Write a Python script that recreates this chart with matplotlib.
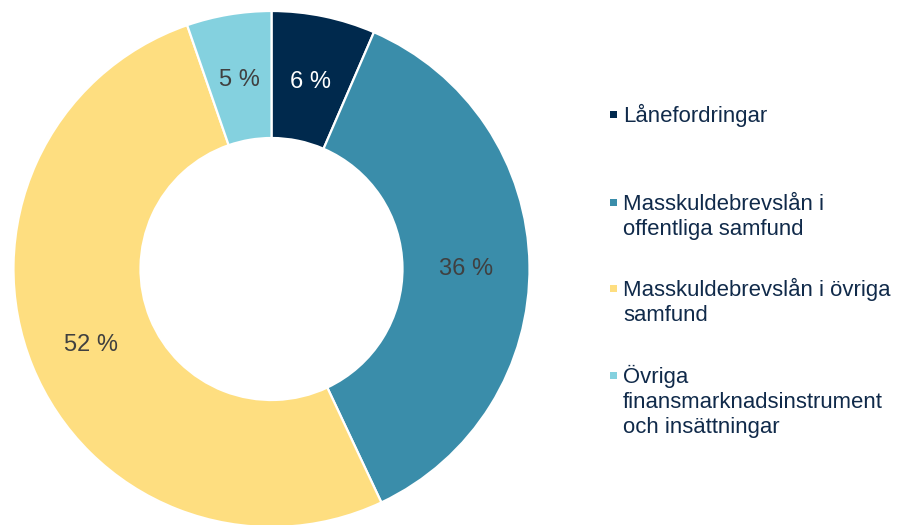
import matplotlib
matplotlib.use("Agg")
import matplotlib.pyplot as plt
import numpy as np
from matplotlib.patches import Rectangle

categories = [
    "Lånefordringar",
    "Masskuldebrevslån i\noffentliga samfund",
    "Masskuldebrevslån i övriga\nsamfund",
    "Övriga\nfinansmarknadsinstrument\noch insättningar",
]
values = [6.5, 36.5, 51.7, 5.3]
pct_labels = ["6 %", "36 %", "52 %", "5 %"]
colors = ["#00294D", "#3A8DAA", "#FEDE80", "#84D1DF"]
label_colors = ["white", "#404040", "#404040", "#404040"]

plt.rcParams["font.family"] = ["Liberation Sans", "DejaVu Sans"]

W, H = 901, 525
fig = plt.figure(figsize=(W / 100, H / 100), dpi=100)
ax = fig.add_axes([0, 0, 1, 1])

cx, cy, R = 271.5, H - 269, 258
ring = 127
wedges, _ = ax.pie(values, colors=colors, startangle=90, counterclock=False,
                   center=(cx, cy), radius=R, frame=True,
                   wedgeprops=dict(width=ring, edgecolor="white", linewidth=1.6))
ax.set_xlim(0, W)
ax.set_ylim(0, H)
ax.set_aspect("equal")
ax.axis("off")

rl = R - ring / 2
for w, lab, lc in zip(wedges, pct_labels, label_colors):
    ang = np.deg2rad((w.theta1 + w.theta2) / 2)
    ax.text(cx + rl * np.cos(ang), cy + rl * np.sin(ang) - 3, lab,
            ha="center", va="center", fontsize=17, color=lc)

# legend drawn manually
text_color = "#102A4A"
first_baselines = [122, 210, 296, 383]
line_step = 25
for cat, col, b in zip(categories, colors, first_baselines):
    ax.add_patch(Rectangle((610, H - (b - 4)), 7, 7, facecolor=col, edgecolor="none"))
    for i, line in enumerate(cat.split("\n")):
        ax.text(623, H - (b + i * line_step), line, ha="left", va="baseline",
                fontsize=15.9, color=text_color)

fig.savefig("out.png", dpi=100)
